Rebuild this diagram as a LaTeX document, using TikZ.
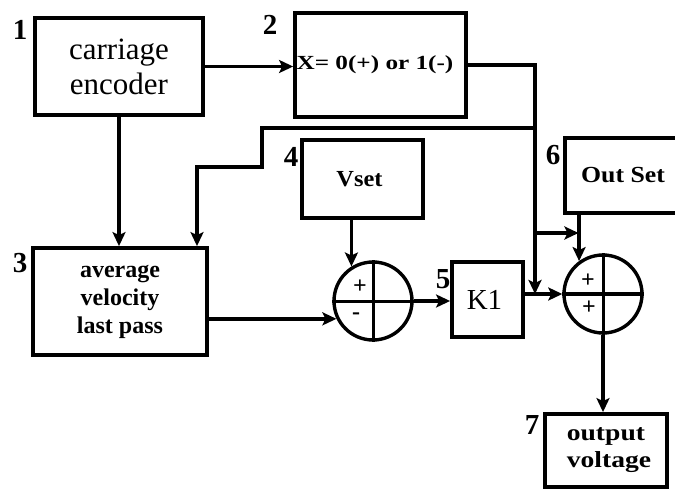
\documentclass[tikz,border=0pt]{standalone}
\usepackage{fontspec}
\usepackage{graphicx}
\setmainfont{Liberation Serif}
\usetikzlibrary{arrows.meta}
\begin{document}
\begin{tikzpicture}[x=1pt,y=-1pt,
  blk/.style={draw, line width=3.8pt, inner sep=0pt, align=center},
  boxline/.style={line width=3.8pt},
  conn/.style={line width=3.4pt, -{Stealth[length=14pt,width=13pt,inset=3pt]}},
  num/.style={font=\bfseries\fontsize{29}{30}\selectfont, inner sep=0pt},
  sgn/.style={font=\bfseries\fontsize{24}{24}\selectfont, inner sep=0pt},
  sumc/.style={draw, circle, line width=3.4pt, minimum size=78pt, inner sep=0pt},
  cross/.style={line width=3pt}]
\useasboundingbox (0,0) rectangle (675,489);

% blocks
\node[blk, minimum width=168pt, minimum height=97pt, font=\fontsize{31}{35}\selectfont] (b1) at (119,66.5) {carriage\\encoder};
\node[blk, minimum width=171pt, minimum height=104pt, font=\bfseries\fontsize{20}{24}\selectfont] (b2) at (380.5,65) {\hspace*{-11pt}\raisebox{-7pt}{\scalebox{1.26}[1]{X= 0(+) or 1(-)}}};
\node[blk, minimum width=174pt, minimum height=107pt, font=\bfseries\fontsize{24}{28}\selectfont] (b3) at (120,301.5) {average\\velocity\\last pass};
\node[blk, minimum width=121pt, minimum height=78pt, font=\bfseries\fontsize{23}{27}\selectfont] (vset) at (362.5,179) {\hspace*{-6pt}\raisebox{-5pt}{\scalebox{1.06}[1]{Vset}}};
\node[minimum width=110pt, minimum height=75pt, inner sep=0pt, font=\bfseries\fontsize{23}{27}\selectfont] (outset) at (620,175.5) {\hspace*{6pt}\raisebox{-4pt}{\scalebox{1.12}[1]{Out Set}}};
\draw[boxline] (outset.north east) -- (outset.north west) -- (outset.south west) -- (outset.south east);
\node[blk, minimum width=71pt, minimum height=75pt, font=\fontsize{29}{30}\selectfont] (k1) at (487.5,299.5) {\hspace*{-6pt}K1};
\node[blk, minimum width=122pt, minimum height=73pt, font=\bfseries\fontsize{23}{27}\selectfont, align=left] (b7) at (606,450.5) {\hspace*{6pt}\scalebox{1.2}[1]{output}\\\hspace*{6pt}\scalebox{1.2}[1]{voltage}};

% summing junctions
\node[sumc] (s1) at (373,301) {};
\draw[cross] (s1.north) -- (s1.south);
\draw[cross] (s1.west) -- (s1.east);
\node[sgn] (p1) at (360,287) {+};
\node[sgn] (m1) at (356,316) {-};
\node[sumc] (s2) at (603,294) {};
\draw[cross] (s2.north) -- (s2.south);
\draw[cross] (s2.west) -- (s2.east);
\node[sgn] (p2) at (588,281) {+};
\node[sgn] (p3) at (589,308) {+};

% numbers
\node[num] (n1) at (20,30) {1};
\node[num] (n2) at (270,25) {2};
\node[num] (n3) at (20,263) {3};
\node[num] (n4) at (291,157) {4};
\node[num] (n5) at (443,279) {5};
\node[num] (n6) at (553,155) {6};
\node[num] (n7) at (532,425) {7};

% helper coordinates
\coordinate (jx) at (535,128);
\coordinate (jb) at (535,233);
\coordinate (kx) at (535,294);
\coordinate (f1) at (262,167);
\coordinate (c197) at (197,0);
\coordinate (ol) at (578.5,0);

% connectors
\draw[conn] (b1.east) -- (b1.east -| b2.west);
\draw[conn] (b1.south) -- (b1.south |- b3.north);
\draw[conn] (b2.east) -| (kx);
\draw[conn] (jx) -| (f1) -| (b3.north -| c197);
\draw[conn] (b3.east |- s1.206) -- (s1.206);
\draw[conn] (vset.south -| s1.122) -- (s1.122);
\draw[conn] (s1.east) -- (s1.east -| k1.west);
\draw[conn] (k1.east |- s2.west) -- (s2.west);
\draw[conn] (jb) -- (jb -| ol);
\draw[conn] (s2.126 |- outset.south) -- (s2.126);
\draw[conn] (s2.south) -- (s2.south |- b7.north);
\end{tikzpicture}
\end{document}
